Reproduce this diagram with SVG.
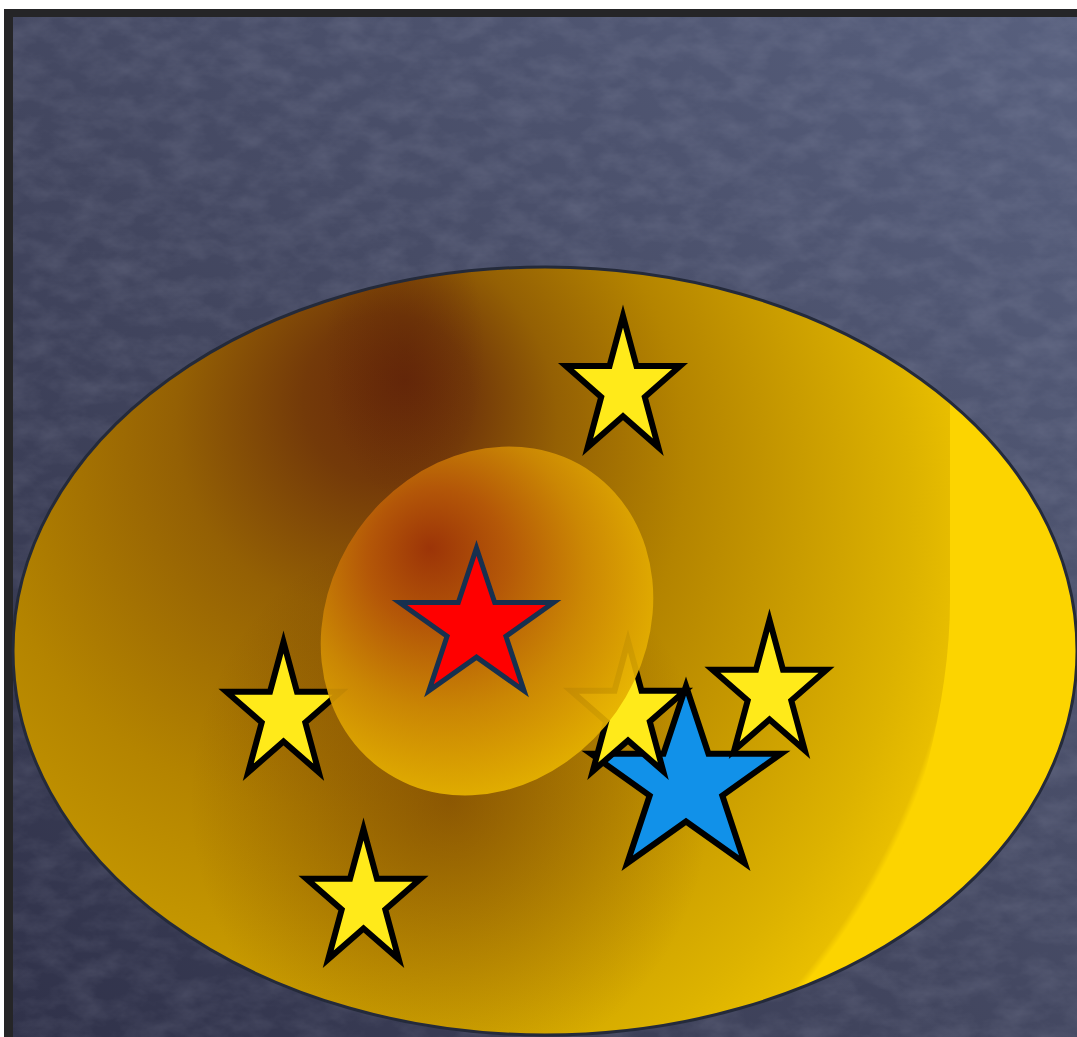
<svg xmlns="http://www.w3.org/2000/svg" xmlns:xlink="http://www.w3.org/1999/xlink" width="1077" height="1037" viewBox="0 0 1077 1037">
  <style>
    .ystar { fill: #ffea1a; stroke: #000; stroke-width: 6; stroke-linejoin: miter; stroke-miterlimit: 10; }
    .bstar { fill: #1191e9; stroke: #000; stroke-width: 6; stroke-linejoin: miter; stroke-miterlimit: 10; }
    .rstar { fill: #ff0000; stroke: #17304f; stroke-width: 5; stroke-linejoin: miter; stroke-miterlimit: 10; }
  </style>
  <defs>
    <path id="star" vector-effect="non-scaling-stroke" d="M0,-1 L0.2245,-0.309 L0.9511,-0.309 L0.3633,0.118 L0.5878,0.809 L0,0.382 L-0.5878,0.809 L-0.3633,0.118 L-0.9511,-0.309 L-0.2245,-0.309 Z"/>
    <linearGradient id="board" x1="0" y1="1" x2="1" y2="0">
      <stop offset="0" stop-color="#30324a"/>
      <stop offset="0.45" stop-color="#42465f"/>
      <stop offset="1" stop-color="#58607e"/>
    </linearGradient>
    <filter id="chalk" x="0" y="0" width="100%" height="100%">
      <feTurbulence type="fractalNoise" baseFrequency="0.03 0.05" numOctaves="4" seed="7"/>
      <feColorMatrix type="matrix" values="0 0 0 0 0.7  0 0 0 0 0.72  0 0 0 0 0.86  0.2 0 0 0 -0.07"/>
    </filter>
    <clipPath id="bowlClip">
      <ellipse cx="545" cy="651" rx="532" ry="384"/>
    </clipPath>
    <radialGradient id="bowl" gradientUnits="userSpaceOnUse" cx="262" cy="535" r="705" fx="405" fy="380">
      <stop offset="0" stop-color="#68290a"/>
      <stop offset="0.12" stop-color="#743a09"/>
      <stop offset="0.27" stop-color="#946004"/>
      <stop offset="0.5" stop-color="#b48400"/>
      <stop offset="0.78" stop-color="#d0a400"/>
      <stop offset="0.9" stop-color="#dcb200"/>
      <stop offset="0.99" stop-color="#e8be00"/>
      <stop offset="1" stop-color="#fcd400"/>
    </radialGradient>
    <radialGradient id="band" gradientUnits="userSpaceOnUse" cx="0" cy="0" r="1" gradientTransform="translate(450 800) scale(260 280)">
      <stop offset="0" stop-color="#5a2006" stop-opacity="0.45"/>
      <stop offset="0.5" stop-color="#5a2006" stop-opacity="0.22"/>
      <stop offset="1" stop-color="#5a2006" stop-opacity="0"/>
    </radialGradient>
    <radialGradient id="streak" gradientUnits="userSpaceOnUse" cx="0" cy="0" r="1" gradientTransform="translate(405 350) scale(80 150)">
      <stop offset="0" stop-color="#5a2006" stop-opacity="0.4"/>
      <stop offset="0.5" stop-color="#5a2006" stop-opacity="0.2"/>
      <stop offset="1" stop-color="#5a2006" stop-opacity="0"/>
    </radialGradient>
    <radialGradient id="ball" gradientUnits="userSpaceOnUse" cx="455" cy="585" r="235" fx="430" fy="548" gradientTransform="rotate(-35 487 621)">
      <stop offset="0" stop-color="#9e3208"/>
      <stop offset="0.3" stop-color="#b85808"/>
      <stop offset="0.6" stop-color="#cf8a04"/>
      <stop offset="0.93" stop-color="#e8b500"/>
      <stop offset="1" stop-color="#fcd300"/>
    </radialGradient>
  </defs>

  <g id="background">
    <rect x="0" y="0" width="1077" height="1037" fill="#ffffff"/>
    <rect x="4" y="9" width="1073" height="1028" fill="#252527"/>
    <rect x="13" y="17" width="1064" height="1020" fill="url(#board)"/>
    <rect x="13" y="17" width="1064" height="1020" filter="url(#chalk)"/>
  </g>

  <g id="bowl-node">
    <ellipse cx="545" cy="651" rx="532" ry="384" fill="url(#bowl)"/>
    <g clip-path="url(#bowlClip)">
      <rect x="13" y="267" width="1064" height="770" fill="url(#band)"/>
      <rect x="300" y="200" width="220" height="320" fill="url(#streak)"/>
      <path d="M950,380 L950,600 C950,730 900,880 818,1040 L1100,1040 L1100,380 Z" fill="#fcd400"/>
    </g>
    <ellipse cx="545" cy="651" rx="532" ry="384" fill="none" stroke="#242a3a" stroke-width="3"/>
  </g>

  <g id="star-top"><use xlink:href="#star" class="ystar" transform="translate(623,388.5) scale(60,72.5)"/></g>
  <g id="star-left"><use xlink:href="#star" class="ystar" transform="translate(283.5,714) scale(60,72)"/></g>
  <g id="star-bottom"><use xlink:href="#star" class="ystar" transform="translate(363.5,901) scale(60,72)"/></g>
  <g id="star-blue"><use xlink:href="#star" class="bstar" transform="translate(686,784) scale(100,98)"/></g>
  <g id="star-right"><use xlink:href="#star" class="ystar" transform="translate(769.5,692) scale(60,72)"/></g>
  <g id="star-mid"><use xlink:href="#star" class="ystar" transform="translate(628,713) scale(60,72)"/></g>

  <g id="ball-node">
    <ellipse cx="487" cy="621" rx="158" ry="182" transform="rotate(35 487 621)" fill="url(#ball)" opacity="0.92"/>
  </g>

  <g id="star-red"><use xlink:href="#star" class="rstar" transform="translate(476.5,627) scale(81,79)"/></g>

  <g id="connectors"/>
</svg>
